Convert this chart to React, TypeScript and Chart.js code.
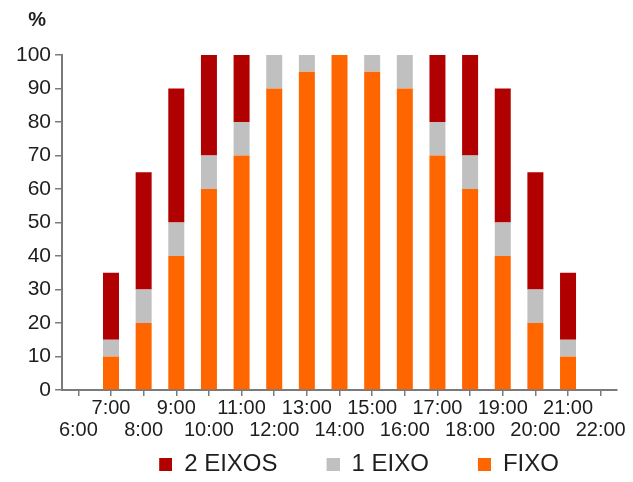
import React, { useEffect, useRef } from "react";
import { Chart, registerables } from "chart.js";

Chart.register(...registerables);

// Hours of the day (category axis)
const hours = [
  "6:00", "7:00", "8:00", "9:00", "10:00", "11:00", "12:00", "13:00", "14:00",
  "15:00", "16:00", "17:00", "18:00", "19:00", "20:00", "21:00", "22:00",
];

// Share (%) per mounting type, stacked from the bottom up
const fixo = [0, 10, 20, 40, 60, 70, 90, 95, 100, 95, 90, 70, 60, 40, 20, 10, 0];
const umEixo = [0, 5, 10, 10, 10, 10, 10, 5, 0, 5, 10, 10, 10, 10, 10, 5, 0];
const doisEixos = [0, 20, 35, 40, 30, 20, 0, 0, 0, 0, 0, 20, 30, 40, 35, 20, 0];

const seriesColors = ["#ff6600", "#c0c0c0", "#b00000"];
const yTicks = [0, 10, 20, 30, 40, 50, 60, 70, 80, 90, 100];

const FONT = "'Liberation Sans', Arial, Helvetica, sans-serif";
const TEXT = "#1e1e1e";
const AXIS = "#7a7a7a";

// Legend marker: a colored square sitting at the right end of a wider slot,
// so that the slot itself spaces the legend entries apart.
const MARKER_SLOT = 52;
const MARKER_SIZE = 13;
function makeMarker(color: string): HTMLCanvasElement {
  const c = document.createElement("canvas");
  c.width = MARKER_SLOT;
  c.height = MARKER_SIZE;
  const g = c.getContext("2d")!;
  g.fillStyle = color;
  g.fillRect(MARKER_SLOT - MARKER_SIZE, 0, MARKER_SIZE, MARKER_SIZE);
  return c;
}

// Draws the "%" unit label above the value axis labels
const unitLabel = {
  id: "unitLabel",
  afterDraw(chart: Chart) {
    const { ctx, chartArea } = chart;
    ctx.save();
    ctx.font = `bold 20px ${FONT}`;
    ctx.fillStyle = TEXT;
    ctx.textAlign = "center";
    ctx.textBaseline = "middle";
    ctx.fillText("%", chartArea.left - 25, chartArea.top - 35);
    ctx.restore();
  },
};

export default function App() {
  const canvasRef = useRef<HTMLCanvasElement | null>(null);

  useEffect(() => {
    if (!canvasRef.current) return;
    const markers = seriesColors.map(makeMarker);
    const chart = new Chart(canvasRef.current, {
      type: "bar",
      data: {
        labels: hours,
        datasets: [
          { label: "FIXO", data: fixo, backgroundColor: seriesColors[0] },
          { label: "1 EIXO", data: umEixo, backgroundColor: seriesColors[1] },
          { label: "2 EIXOS", data: doisEixos, backgroundColor: seriesColors[2] },
        ],
      },
      options: {
        animation: false,
        responsive: true,
        maintainAspectRatio: false,
        layout: { padding: { top: 55, left: 12, right: 16, bottom: 0 } },
        datasets: {
          bar: { categoryPercentage: 1, barPercentage: 0.49 },
        },
        scales: {
          x: {
            stacked: true,
            offset: true,
            grid: {
              offset: false,
              drawOnChartArea: false,
              drawTicks: true,
              tickLength: 6,
              color: AXIS,
              lineWidth: 1.5,
            },
            border: { color: AXIS, width: 2 },
            ticks: {
              autoSkip: false,
              maxRotation: 0,
              minRotation: 0,
              padding: 1,
              color: TEXT,
              font: { family: FONT, size: 20, lineHeight: 1.1 },
              callback: (_v: any, i: number) =>
                i % 2 === 0 ? ["", hours[i]] : [hours[i], ""],
            },
          },
          y: {
            stacked: true,
            min: 0,
            max: 100,
            afterBuildTicks: (scale: any) => {
              scale.ticks = yTicks.map((v) => ({ value: v }));
            },
            grid: {
              drawOnChartArea: false,
              drawTicks: true,
              tickLength: 7,
              color: AXIS,
              lineWidth: 1.5,
            },
            border: { color: AXIS, width: 2 },
            ticks: {
              padding: 4,
              color: TEXT,
              font: { family: FONT, size: 21 },
            },
          },
        },
        plugins: {
          legend: {
            position: "bottom",
            fullSize: false,
            reverse: true,
            maxHeight: 40,
            labels: {
              usePointStyle: true,
              pointStyleWidth: MARKER_SLOT,
              padding: 10,
              color: TEXT,
              font: { family: FONT, size: 24 },
              generateLabels: (c: Chart) =>
                Chart.defaults.plugins.legend.labels
                  .generateLabels(c)
                  .map((item: any) => ({ ...item, pointStyle: markers[item.datasetIndex] })),
            },
          },
          tooltip: { enabled: false },
        },
      },
      plugins: [unitLabel],
    });
    return () => chart.destroy();
  }, []);

  return (
    <div style={{ position: "fixed", left: 0, top: 0, width: 633, height: 482, background: "#fff" }}>
      <canvas ref={canvasRef} />
    </div>
  );
}
